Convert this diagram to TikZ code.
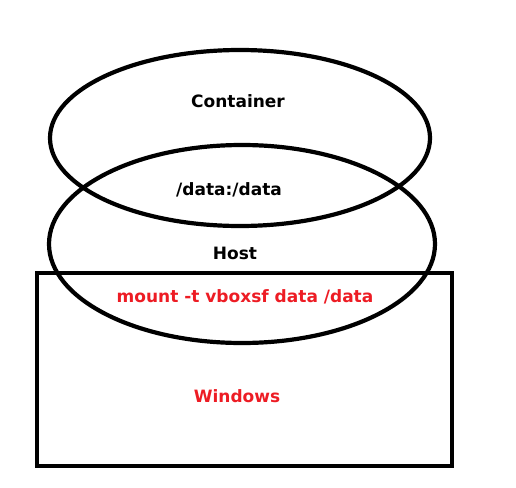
\documentclass[tikz,border=0pt]{standalone}
\usepackage{fontspec}
\setmainfont{DejaVu Sans}
\definecolor{paintred}{RGB}{237,28,36}
\tikzset{
  label/.style={font=\fontsize{17}{19}\selectfont\bfseries, inner sep=0pt},
  redlabel/.style={label, text=paintred}
}
\begin{document}
\begin{tikzpicture}[x=1pt,y=-1pt,line width=4.2pt]
		\useasboundingbox (0,0) rectangle (516,487);
		\draw (240,138) ellipse [x radius=190pt, y radius=88pt]; %Container
		\draw (242,244) ellipse [x radius=193pt, y radius=99pt]; %Host
		\draw (37,273) rectangle (452,466); %Windows
		\node[label] (container) at (238,101) {Container};
		\node[label] (volume) at (229,190) {/data:/data};
		\node[label] (host) at (235,253) {Host};
		\node[redlabel] (mount) at (245,297) {mount -t vboxsf data /data};
		\node[redlabel] (windows) at (237,396) {Windows};
	\end{tikzpicture}
\end{document}
